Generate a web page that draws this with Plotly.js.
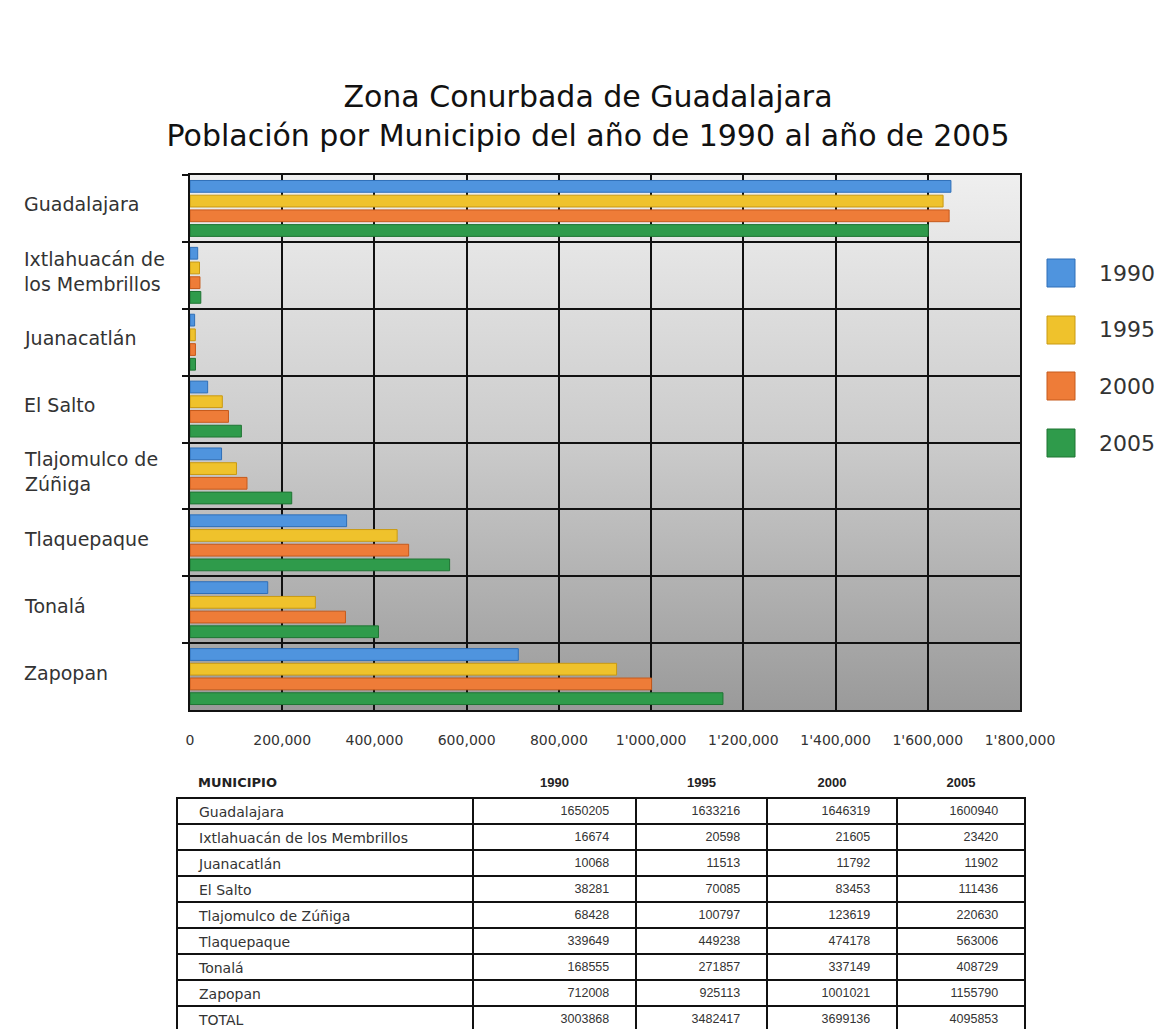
<!DOCTYPE html>
<html>
<head>
<meta charset="utf-8">
<script src="https://cdn.plot.ly/plotly-3.0.1.min.js"></script>
<style>html,body{margin:0;padding:0;background:#fff;}#chart{width:1158px;height:1029px;}</style>
</head>
<body>
<div id="chart"></div>
<script>
// ---- data ----
var municipios = ["Guadalajara", "Ixtlahuacán de los Membrillos", "Juanacatlán", "El Salto", "Tlajomulco de Zúñiga", "Tlaquepaque", "Tonalá", "Zapopan"];
var chartLabels = ["Guadalajara", "Ixtlahuacán de<br>los Membrillos", "Juanacatlán", "El Salto", "Tlajomulco de<br>Zúñiga", "Tlaquepaque", "Tonalá", "Zapopan"];
var years = ["1990", "1995", "2000", "2005"];
var pop1990 = [1650205, 16674, 10068, 38281, 68428, 339649, 168555, 712008];
var pop1995 = [1633216, 20598, 11513, 70085, 100797, 449238, 271857, 925113];
var pop2000 = [1646319, 21605, 11792, 83453, 123619, 474178, 337149, 1001021];
var pop2005 = [1600940, 23420, 11902, 111436, 220630, 563006, 408729, 1155790];
var totals = [3003868, 3482417, 3699136, 4095853];
var xTickVals = [0, 200000, 400000, 600000, 800000, 1000000, 1200000, 1400000, 1600000, 1800000];
var xTickText = ["0", "200,000", "400,000", "600,000", "800,000", "1'000,000", "1'200,000", "1'400,000", "1'600,000", "1'800,000"];
var tableHeader = ["MUNICIPIO", "1990", "1995", "2000", "2005"];
var totalLabel = "TOTAL";
var titleLines = ["Zona Conurbada de Guadalajara", "Población por Municipio del año de 1990 al año de 2005"];

// ---- styles ----
var colors = ["#4f94de", "#efc22c", "#ee7c38", "#2f9b4b"];
var lineColors = ["#2f6fb8", "#c99a12", "#c65a1c", "#1f7433"];
var W = 1158, H = 1029;
var plotL = 190, plotR = 1020, plotT = 175, plotB = 710;
var font = "DejaVu Sans, Verdana, sans-serif";
var numFont = "Liberation Sans, Arial, sans-serif";

var series = [pop1990, pop1995, pop2000, pop2005];
var traces = series.map(function (vals, i) {
  return {
    type: "bar",
    orientation: "h",
    name: years[i],
    x: vals,
    y: municipios,
    marker: {color: colors[i], line: {color: lineColors[i], width: 1}},
    showlegend: false,
    hoverinfo: "x+name"
  };
});

// table
var pad = "\u2002\u2002";
var colNames = municipios.concat([totalLabel]).map(function (n) { return pad + n; });
var colVals = series.map(function (vals, i) {
  return vals.concat([totals[i]]).map(function (v) { return String(v) + "\u2002\u2002\u2002"; });
});
traces.push({
  type: "table",
  domain: {x: [177 / W, 1025 / W], y: [0, 1 - 767 / H]},
  columnwidth: [296, 163, 131, 130, 128],
  header: {
    values: [pad + "<b>" + tableHeader[0] + "</b>"].concat(tableHeader.slice(1).map(function (t) { return "<b>" + t + "</b>"; })),
    align: ["left", "center", "center", "center", "center"],
    fill: {color: "rgba(0,0,0,0)"},
    line: {width: 0, color: "rgba(0,0,0,0)"},
    font: {family: [font, numFont, numFont, numFont, numFont], size: [13, 13, 13, 13, 13], color: "#222"},
    height: 27
  },
  cells: {
    values: [colNames].concat(colVals),
    align: ["left", "right", "right", "right", "right"],
    fill: {color: "#ffffff"},
    line: {width: 1.5, color: "#111"},
    font: {family: [font, numFont, numFont, numFont, numFont], size: [14, 12.5, 12.5, 12.5, 12.5], color: "#333"},
    height: 26
  }
});

// background gradient image
var svg = "<svg xmlns='http://www.w3.org/2000/svg' width='100' height='100' preserveAspectRatio='none'>" +
  "<defs><linearGradient id='g' x1='0' y1='0' x2='0' y2='1'>" +
  "<stop offset='0' stop-color='#efefef'/><stop offset='0.5' stop-color='#cbcbcb'/><stop offset='1' stop-color='#9a9a9a'/>" +
  "</linearGradient></defs><rect width='100' height='100' fill='url(#g)'/></svg>";
var bgSrc = "data:image/svg+xml;charset=utf-8," + encodeURIComponent(svg);

// category labels (left-aligned)
var annotations = chartLabels.map(function (lab, i) {
  return {
    xref: "paper", yref: "y", x: 22 / W, y: municipios[i],
    xanchor: "left", yanchor: "middle", align: "left",
    text: lab, showarrow: false, yshift: 4,
    font: {family: font, size: 19, color: "#333"}
  };
});

// manual legend (big swatches)
var legendY = [273, 330, 386, 443];
var shapes = [];
years.forEach(function (yr, i) {
  shapes.push({
    type: "rect", xref: "paper", yref: "paper",
    x0: 1047 / W, x1: 1075 / W, y0: 1 - (legendY[i] + 14) / H, y1: 1 - (legendY[i] - 14) / H,
    fillcolor: colors[i], line: {color: lineColors[i], width: 1}
  });
  annotations.push({
    xref: "paper", yref: "paper", x: 1097 / W, y: 1 - legendY[i] / H,
    xanchor: "left", yanchor: "middle", showarrow: false, text: yr,
    font: {family: font, size: 22, color: "#333"}
  });
});

var layout = {
  width: W, height: H,
  margin: {l: 0, r: 0, t: 0, b: 0},
  paper_bgcolor: "#ffffff",
  plot_bgcolor: "rgba(0,0,0,0)",
  title: {
    text: titleLines.join("<br>"),
    font: {family: font, size: 30, color: "#111"},
    x: 588 / W, xanchor: "center", y: 1 - 107 / H, yanchor: "middle"
  },
  barmode: "group",
  bargap: 0.12,
  bargroupgap: 0.2,
  showlegend: false,
  xaxis: {
    domain: [plotL / W, plotR / W],
    range: [0, 1800000],
    tickvals: xTickVals,
    ticktext: xTickText,
    showgrid: true, gridcolor: "#111", gridwidth: 2,
    showline: true, linecolor: "#111", linewidth: 2, mirror: true,
    zeroline: false,
    ticks: "", ticklabelstandoff: 16,
    tickfont: {family: font, size: 14, color: "#333"},
    fixedrange: true
  },
  yaxis: {
    domain: [1 - plotB / H, 1 - plotT / H],
    type: "category",
    autorange: "reversed",
    tickson: "boundaries",
    ticks: "outside", ticklen: 6, tickcolor: "#111", tickwidth: 2,
    showticklabels: false,
    showgrid: true, gridcolor: "#111", gridwidth: 2,
    showline: true, linecolor: "#111", linewidth: 2, mirror: true,
    fixedrange: true
  },
  images: [{
    source: bgSrc, xref: "paper", yref: "paper",
    x: plotL / W, y: 1 - plotT / H, sizex: (plotR - plotL) / W, sizey: (plotB - plotT) / H,
    xanchor: "left", yanchor: "top", sizing: "stretch", layer: "below"
  }],
  shapes: shapes,
  annotations: annotations
};

Plotly.newPlot("chart", traces, layout, {displayModeBar: false, staticPlot: true});
</script>
</body>
</html>
